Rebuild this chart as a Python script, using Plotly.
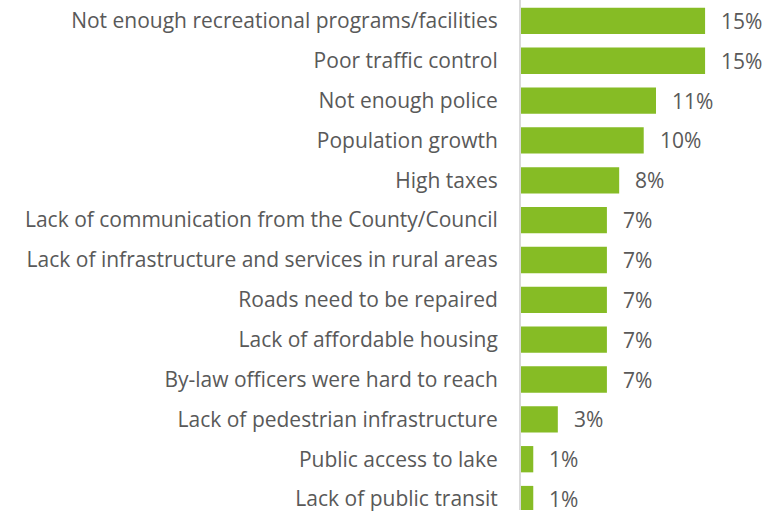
import plotly.graph_objects as go

# Top issues facing the community (share of mentions)
categories = [
    "Not enough recreational programs/facilities",
    "Poor traffic control",
    "Not enough police",
    "Population growth",
    "High taxes",
    "Lack of communication from the County/Council",
    "Lack of infrastructure and services in rural areas",
    "Roads need to be repaired",
    "Lack of affordable housing",
    "By-law officers were hard to reach",
    "Lack of pedestrian infrastructure",
    "Public access to lake",
    "Lack of public transit",
]
percentages = [15, 15, 11, 10, 8, 7, 7, 7, 7, 7, 3, 1, 1]

BAR_COLOR = "#86BC25"
TEXT_COLOR = "#595959"
FONT = "Open Sans"
FONT_SIZE = 21

fig = go.Figure(
    go.Bar(
        x=percentages,
        y=categories,
        orientation="h",
        marker=dict(color=BAR_COLOR, line=dict(width=0)),
        hoverinfo="skip",
    )
)

# Value labels sit a little to the right of each bar end
for cat, val in zip(categories, percentages):
    fig.add_annotation(
        x=val,
        y=cat,
        text=f"{val}%",
        showarrow=False,
        xanchor="left",
        xshift=14,
        font=dict(family=FONT, size=FONT_SIZE, color=TEXT_COLOR),
    )

n = len(categories)
fig.update_layout(
    width=777,
    height=512,
    margin=dict(l=521, r=0, t=0, b=0),
    paper_bgcolor="white",
    plot_bgcolor="white",
    bargap=0.34,
    showlegend=False,
    font=dict(family=FONT, size=FONT_SIZE, color=TEXT_COLOR),
    xaxis=dict(
        range=[0, 20.86],
        visible=False,
        fixedrange=True,
    ),
    yaxis=dict(
        range=[n - 1 + 0.275, -0.525],
        showline=True,
        linecolor="#D9D9D9",
        linewidth=2,
        ticks="",
        ticklabelstandoff=17,
        showgrid=False,
        zeroline=False,
        tickfont=dict(family=FONT, size=FONT_SIZE, color=TEXT_COLOR),
        fixedrange=True,
    ),
)

fig.write_html("out.html")
